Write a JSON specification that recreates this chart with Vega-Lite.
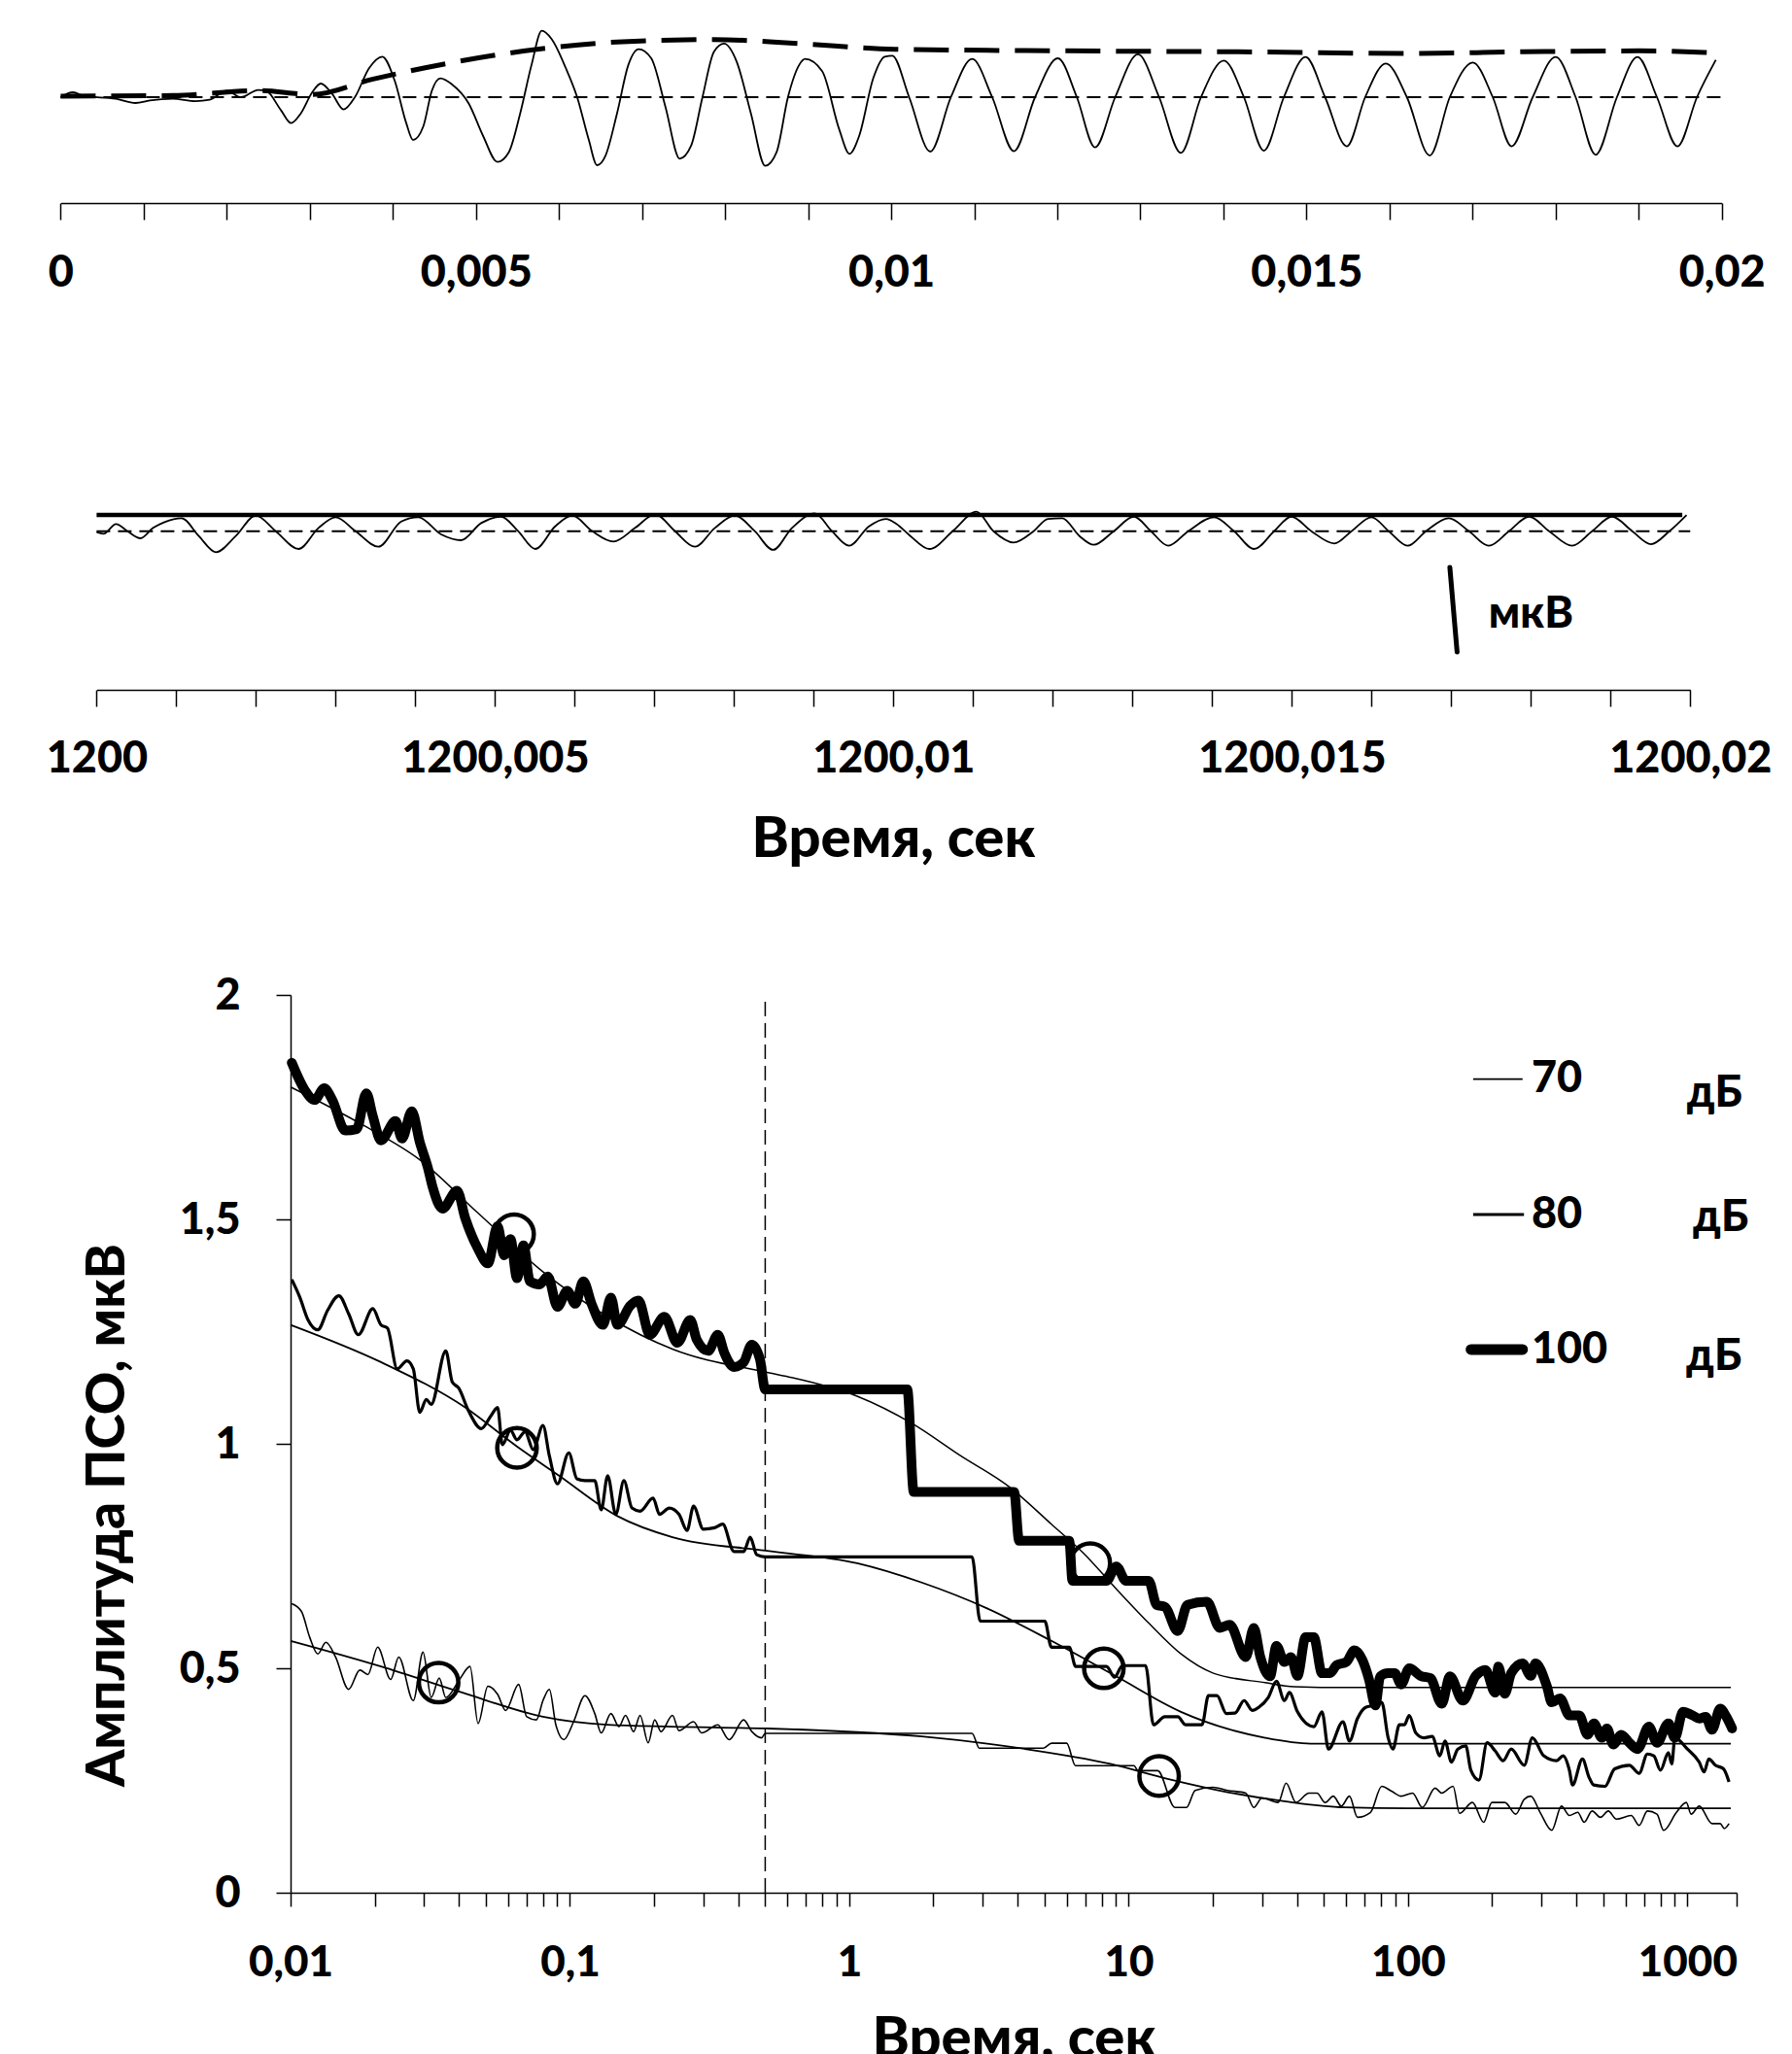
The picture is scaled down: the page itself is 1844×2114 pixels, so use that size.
{
  "$schema": "https://vega.github.io/schema/vega-lite/v6.json",
  "background": "white",
  "padding": {"left": 47, "top": 20, "right": 5, "bottom": 0},
  "spacing": 109,
  "config": {
    "font": "Lato",
    "view": {"stroke": null},
    "axis": {
      "labelFont": "Lato", "labelFontWeight": 900, "labelColor": "black", "labelLimit": 500,
      "titleFont": "Lato", "titleFontWeight": 900, "titleColor": "black", "titleLimit": 2000,
      "domainColor": "black", "tickColor": "black", "domainWidth": 1.5, "tickWidth": 1.5,
      "grid": false, "labelOverlap": false, "labelFlush": false, "labelBound": false
    }
  },
  "datasets": {
    "p1_base": [{"t":0,"t2":0.02,"v":0}],
    "p1_signal": [
      {"t":0,"v":0},{"t":0.000148,"v":0.058},{"t":0.000285,"v":0.012},{"t":0.000663,"v":-0.019},{"t":0.000902,"v":-0.07},{"t":0.001074,"v":-0.039},{"t":0.001349,"v":-0.019},{"t":0.001623,"v":-0.047},{"t":0.001794,"v":-0.031},{"t":0.002,"v":0.078},{"t":0.002172,"v":0},{"t":0.002378,"v":0.085},{"t":0.00248,"v":0.07},{"t":0.002652,"v":-0.155},{"t":0.002775,"v":-0.31},{"t":0.002892,"v":-0.194},{"t":0.003029,"v":0.058},{"t":0.003132,"v":0.163},{"t":0.003269,"v":0.039},{"t":0.003406,"v":-0.147},{"t":0.003543,"v":0},{"t":0.003715,"v":0.349},{"t":0.003873,"v":0.485},{"t":0.004023,"v":0.194},{"t":0.004161,"v":-0.31},{"t":0.004243,"v":-0.512},{"t":0.004367,"v":-0.349},{"t":0.00447,"v":0.078},{"t":0.004573,"v":0.225},{"t":0.00471,"v":0.155},{"t":0.004915,"v":-0.078},{"t":0.005087,"v":-0.465},{"t":0.005259,"v":-0.775},{"t":0.005396,"v":-0.659},{"t":0.005533,"v":-0.194},{"t":0.00567,"v":0.388},{"t":0.005793,"v":0.795},{"t":0.00591,"v":0.698},{"t":0.006082,"v":0.349},{"t":0.006219,"v":0},{"t":0.006357,"v":-0.504},{"t":0.006459,"v":-0.814},{"t":0.006561,"v":-0.698},{"t":0.006699,"v":-0.194},{"t":0.006836,"v":0.388},{"t":0.00696,"v":0.574},{"t":0.007111,"v":0.465},{"t":0.007282,"v":-0.116},{"t":0.007454,"v":-0.736},{"t":0.007591,"v":-0.581},{"t":0.007728,"v":0},{"t":0.007866,"v":0.543},{"t":0.007988,"v":0.64},{"t":0.008139,"v":0.426},{"t":0.008311,"v":-0.194},{"t":0.008483,"v":-0.822},{"t":0.00862,"v":-0.659},{"t":0.008757,"v":0},{"t":0.008894,"v":0.388},{"t":0.008963,"v":0.457},{"t":0.009169,"v":0.31},{"t":0.009375,"v":-0.388},{"t":0.009498,"v":-0.678},{"t":0.009614,"v":-0.465},{"t":0.009786,"v":0.233},{"t":0.009923,"v":0.485},{"t":0.010014,"v":0.496},{"t":0.010216,"v":0},{"t":0.010471,"v":-0.651},{"t":0.010719,"v":0},{"t":0.010975,"v":0.457},{"t":0.011216,"v":0},{"t":0.011478,"v":-0.647},{"t":0.011732,"v":0},{"t":0.012007,"v":0.465},{"t":0.012235,"v":0},{"t":0.012455,"v":-0.601},{"t":0.012697,"v":0},{"t":0.012971,"v":0.512},{"t":0.013226,"v":0},{"t":0.013488,"v":-0.667},{"t":0.01373,"v":0},{"t":0.014005,"v":0.438},{"t":0.014247,"v":0},{"t":0.014487,"v":-0.64},{"t":0.014728,"v":0},{"t":0.01499,"v":0.481},{"t":0.015224,"v":0},{"t":0.015486,"v":-0.589},{"t":0.015707,"v":0},{"t":0.015955,"v":0.403},{"t":0.016209,"v":0},{"t":0.016485,"v":-0.698},{"t":0.016726,"v":0},{"t":0.017002,"v":0.415},{"t":0.017243,"v":0},{"t":0.01747,"v":-0.589},{"t":0.017724,"v":0},{"t":0.018,"v":0.481},{"t":0.018241,"v":0},{"t":0.018482,"v":-0.69},{"t":0.018738,"v":0},{"t":0.018986,"v":0.481},{"t":0.01922,"v":0},{"t":0.019467,"v":-0.589},{"t":0.019702,"v":0},{"t":0.019929,"v":0.446}
    ],
    "p1_env": [
      {"t":0,"v":0.012},{"t":0.001349,"v":0.019},{"t":0.002378,"v":0.078},{"t":0.003029,"v":0.031},{"t":0.00375,"v":0.213},{"t":0.004779,"v":0.426},{"t":0.005807,"v":0.581},{"t":0.006836,"v":0.667},{"t":0.007866,"v":0.69},{"t":0.008894,"v":0.64},{"t":0.010047,"v":0.574},{"t":0.012111,"v":0.554},{"t":0.014178,"v":0.543},{"t":0.016243,"v":0.523},{"t":0.017621,"v":0.543},{"t":0.018998,"v":0.554},{"t":0.019826,"v":0.535}
    ],
    "p2_base": [{"t":1200,"t2":1200.02,"v":0}],
    "p2_env": [{"t":1200,"t2":1200.0199,"v":0.194}],
    "p2_signal": [
      {"t":1200,"v":-0.01},{"t":1200.000087,"v":-0.03},{"t":1200.000244,"v":0.086},{"t":1200.000387,"v":0},{"t":1200.000551,"v":-0.085},{"t":1200.000709,"v":0.039},{"t":1200.000853,"v":0.109},{"t":1200.001067,"v":0.155},{"t":1200.001282,"v":-0.058},{"t":1200.001497,"v":-0.251},{"t":1200.001747,"v":-0.058},{"t":1200.001998,"v":0.186},{"t":1200.002248,"v":0},{"t":1200.002535,"v":-0.213},{"t":1200.002785,"v":0.039},{"t":1200.003,"v":0.167},{"t":1200.00325,"v":0},{"t":1200.003536,"v":-0.186},{"t":1200.003823,"v":0.116},{"t":1200.004038,"v":0.167},{"t":1200.004324,"v":-0.038},{"t":1200.004574,"v":-0.108},{"t":1200.004826,"v":0.097},{"t":1200.005076,"v":0.174},{"t":1200.00529,"v":0},{"t":1200.005505,"v":-0.213},{"t":1200.005755,"v":0.058},{"t":1200.005971,"v":0.186},{"t":1200.006221,"v":0},{"t":1200.006486,"v":-0.124},{"t":1200.006758,"v":0.039},{"t":1200.007009,"v":0.202},{"t":1200.007259,"v":0},{"t":1200.007509,"v":-0.186},{"t":1200.00776,"v":0.039},{"t":1200.00801,"v":0.186},{"t":1200.00826,"v":0},{"t":1200.00849,"v":-0.224},{"t":1200.008727,"v":0.039},{"t":1200.009013,"v":0.213},{"t":1200.009228,"v":0},{"t":1200.009443,"v":-0.174},{"t":1200.009693,"v":0.058},{"t":1200.009907,"v":0.147},{"t":1200.010034,"v":0.09},{"t":1200.010213,"v":-0.058},{"t":1200.010451,"v":-0.213},{"t":1200.010753,"v":0.008},{"t":1200.011041,"v":0.233},{"t":1200.011256,"v":0},{"t":1200.011508,"v":-0.135},{"t":1200.011759,"v":0},{"t":1200.01194,"v":0.147},{"t":1200.012119,"v":0.155},{"t":1200.012335,"v":-0.058},{"t":1200.012514,"v":-0.163},{"t":1200.012765,"v":0},{"t":1200.013018,"v":0.174},{"t":1200.013232,"v":0},{"t":1200.013448,"v":-0.174},{"t":1200.0137,"v":0},{"t":1200.014024,"v":0.167},{"t":1200.014275,"v":0},{"t":1200.014527,"v":-0.213},{"t":1200.014778,"v":0},{"t":1200.014994,"v":0.174},{"t":1200.015245,"v":0},{"t":1200.015533,"v":-0.147},{"t":1200.015749,"v":0},{"t":1200.016,"v":0.167},{"t":1200.016216,"v":0},{"t":1200.016453,"v":-0.174},{"t":1200.016683,"v":0},{"t":1200.01697,"v":0.155},{"t":1200.017223,"v":0},{"t":1200.017474,"v":-0.174},{"t":1200.017725,"v":0},{"t":1200.017978,"v":0.174},{"t":1200.018229,"v":0},{"t":1200.018517,"v":-0.174},{"t":1200.018768,"v":0},{"t":1200.019019,"v":0.174},{"t":1200.019272,"v":0},{"t":1200.019508,"v":-0.155},{"t":1200.019738,"v":0},{"t":1200.019954,"v":0.194}
    ],
    "p2_bar": [{"t":1200.016983,"t2":1200.017074,"v":-0.434,"v2":-1.445}],
    "p2_label": [{"t":1200.01747,"v":-0.99,"label":"мкВ"}],
    "p3_vline": [{"t":0.5,"v":0,"v2":1.987}],
    "r100": [
      {"t":0.0101,"v":1.849},{"t":0.01125,"v":1.788},{"t":0.01218,"v":1.766},{"t":0.0132,"v":1.792},{"t":0.01411,"v":1.766},{"t":0.0157,"v":1.698},{"t":0.01724,"v":1.701},{"t":0.01867,"v":1.781},{"t":0.0197,"v":1.73},{"t":0.02107,"v":1.676},{"t":0.02375,"v":1.719},{"t":0.02506,"v":1.68},{"t":0.02715,"v":1.741},{"t":0.02901,"v":1.672},{"t":0.03101,"v":1.615},{"t":0.03228,"v":1.571},{"t":0.03498,"v":1.524},{"t":0.03944,"v":1.564},{"t":0.04217,"v":1.503},{"t":0.04691,"v":1.434},{"t":0.05084,"v":1.402},{"t":0.05508,"v":1.485},{"t":0.0581,"v":1.42},{"t":0.06127,"v":1.456},{"t":0.06463,"v":1.369},{"t":0.06819,"v":1.442},{"t":0.0719,"v":1.362},{"t":0.07792,"v":1.355},{"t":0.08329,"v":1.373},{"t":0.09024,"v":1.305},{"t":0.09777,"v":1.341},{"t":0.1045,"v":1.312},{"t":0.1117,"v":1.362},{"t":0.1195,"v":1.312},{"t":0.1312,"v":1.265},{"t":0.1402,"v":1.326},{"t":0.1479,"v":1.265},{"t":0.1646,"v":1.308},{"t":0.1759,"v":1.319},{"t":0.1932,"v":1.243},{"t":0.2178,"v":1.283},{"t":0.2424,"v":1.225},{"t":0.2696,"v":1.276},{"t":0.2844,"v":1.232},{"t":0.3123,"v":1.207},{"t":0.3384,"v":1.243},{"t":0.3568,"v":1.203},{"t":0.3865,"v":1.171},{"t":0.4188,"v":1.182},{"t":0.4477,"v":1.221},{"t":0.4786,"v":1.189},{"t":0.5,"v":1.121},{"t":1.613,"v":1.121},{"t":1.701,"v":0.893},{"t":3.89,"v":0.893},{"t":4.053,"v":0.784},{"t":6.128,"v":0.784},{"t":6.29,"v":0.695},{"t":8.328,"v":0.695},{"t":9.03,"v":0.727},{"t":9.78,"v":0.695},{"t":11.79,"v":0.695},{"t":12.6,"v":0.641},{"t":13.47,"v":0.637},{"t":14.98,"v":0.583},{"t":16.23,"v":0.641},{"t":19.05,"v":0.648},{"t":21.2,"v":0.59},{"t":22.97,"v":0.597},{"t":26.24,"v":0.525},{"t":28.05,"v":0.59},{"t":29.6,"v":0.525},{"t":32.06,"v":0.482},{"t":33.8,"v":0.55},{"t":36.1,"v":0.514},{"t":38.1,"v":0.525},{"t":40.2,"v":0.483},{"t":42.97,"v":0.569},{"t":46,"v":0.569},{"t":49.2,"v":0.489},{"t":52.6,"v":0.489},{"t":55.5,"v":0.507},{"t":60.1,"v":0.514},{"t":64.3,"v":0.54},{"t":68.7,"v":0.518},{"t":72.5,"v":0.475},{"t":76.4,"v":0.417},{"t":79.5,"v":0.482},{"t":84.9,"v":0.489},{"t":89.6,"v":0.489},{"t":94.5,"v":0.464},{"t":101,"v":0.5},{"t":110.9,"v":0.483},{"t":120.2,"v":0.478},{"t":132,"v":0.421},{"t":141.2,"v":0.482},{"t":157,"v":0.428},{"t":174.7,"v":0.483},{"t":189.2,"v":0.496},{"t":205,"v":0.446},{"t":210.5,"v":0.504},{"t":222,"v":0.443},{"t":234,"v":0.489},{"t":257,"v":0.511},{"t":275,"v":0.483},{"t":286,"v":0.511},{"t":314,"v":0.46},{"t":327,"v":0.424},{"t":350,"v":0.433},{"t":378,"v":0.395},{"t":410,"v":0.395},{"t":439,"v":0.352},{"t":463,"v":0.377},{"t":494,"v":0.345},{"t":515,"v":0.366},{"t":543,"v":0.33},{"t":580,"v":0.352},{"t":620,"v":0.334},{"t":663,"v":0.32},{"t":728,"v":0.37},{"t":778,"v":0.334},{"t":855,"v":0.377},{"t":902,"v":0.345},{"t":964,"v":0.403},{"t":1044,"v":0.395},{"t":1102,"v":0.388},{"t":1162,"v":0.392},{"t":1225,"v":0.363},{"t":1310,"v":0.41},{"t":1378,"v":0.392},{"t":1445,"v":0.366}
    ],
    "r80": [
      {"t":0.0101,"v":1.366},{"t":0.0108,"v":1.326},{"t":0.01155,"v":1.276},{"t":0.01252,"v":1.254},{"t":0.01356,"v":1.297},{"t":0.01489,"v":1.33},{"t":0.01613,"v":1.29},{"t":0.01748,"v":1.243},{"t":0.0197,"v":1.301},{"t":0.02107,"v":1.265},{"t":0.02222,"v":1.258},{"t":0.02408,"v":1.167},{"t":0.02608,"v":1.185},{"t":0.0275,"v":1.167},{"t":0.02901,"v":1.07},{"t":0.0306,"v":1.099},{"t":0.03187,"v":1.088},{"t":0.03594,"v":1.207},{"t":0.03789,"v":1.138},{"t":0.04,"v":1.124},{"t":0.04331,"v":1.074},{"t":0.04818,"v":1.034},{"t":0.0522,"v":1.063},{"t":0.05508,"v":1.081},{"t":0.05732,"v":0.998},{"t":0.06127,"v":1.03},{"t":0.06463,"v":1.009},{"t":0.06909,"v":1.027},{"t":0.07388,"v":0.987},{"t":0.08007,"v":1.041},{"t":0.08441,"v":0.973},{"t":0.09024,"v":0.911},{"t":0.09906,"v":0.98},{"t":0.1059,"v":0.922},{"t":0.1132,"v":0.918},{"t":0.1227,"v":0.918},{"t":0.1294,"v":0.853},{"t":0.1365,"v":0.929},{"t":0.1459,"v":0.843},{"t":0.156,"v":0.918},{"t":0.1667,"v":0.857},{"t":0.1783,"v":0.85},{"t":0.1984,"v":0.879},{"t":0.2093,"v":0.843},{"t":0.2267,"v":0.857},{"t":0.2457,"v":0.843},{"t":0.2625,"v":0.807},{"t":0.277,"v":0.861},{"t":0.3001,"v":0.81},{"t":0.3294,"v":0.813},{"t":0.3522,"v":0.821},{"t":0.3864,"v":0.76},{"t":0.4188,"v":0.76},{"t":0.4418,"v":0.792},{"t":0.4662,"v":0.753},{"t":0.5,"v":0.748},{"t":2.75,"v":0.748},{"t":2.94,"v":0.605},{"t":5.01,"v":0.605},{"t":5.29,"v":0.547},{"t":6.13,"v":0.547},{"t":6.46,"v":0.504},{"t":8.33,"v":0.504},{"t":8.9,"v":0.48},{"t":9.5,"v":0.506},{"t":11.5,"v":0.506},{"t":12.27,"v":0.374},{"t":13.46,"v":0.392},{"t":14.99,"v":0.392},{"t":16.0,"v":0.374},{"t":18.3,"v":0.374},{"t":19.3,"v":0.439},{"t":20.7,"v":0.439},{"t":22.4,"v":0.399},{"t":24,"v":0.4},{"t":25.9,"v":0.428},{"t":27.7,"v":0.406},{"t":29.2,"v":0.413},{"t":31.6,"v":0.435},{"t":33.8,"v":0.471},{"t":36.1,"v":0.428},{"t":37.6,"v":0.446},{"t":40.2,"v":0.403},{"t":46,"v":0.37},{"t":49.2,"v":0.403},{"t":51.9,"v":0.32},{"t":58.5,"v":0.381},{"t":61.7,"v":0.338},{"t":65.9,"v":0.388},{"t":70.5,"v":0.413},{"t":75.3,"v":0.417},{"t":80.5,"v":0.424},{"t":84.9,"v":0.345},{"t":88.3,"v":0.32},{"t":93.1,"v":0.374},{"t":97,"v":0.374},{"t":101,"v":0.395},{"t":106.6,"v":0.356},{"t":114,"v":0.345},{"t":122,"v":0.348},{"t":130,"v":0.305},{"t":135.6,"v":0.338},{"t":143,"v":0.291},{"t":150.7,"v":0.32},{"t":161,"v":0.327},{"t":167.8,"v":0.273},{"t":179.4,"v":0.251},{"t":191.8,"v":0.334},{"t":205,"v":0.316},{"t":219,"v":0.294},{"t":234,"v":0.32},{"t":260.6,"v":0.284},{"t":278.6,"v":0.345},{"t":306,"v":0.305},{"t":340,"v":0.294},{"t":359,"v":0.305},{"t":378,"v":0.273},{"t":388,"v":0.24},{"t":421,"v":0.298},{"t":444,"v":0.258},{"t":462,"v":0.24},{"t":507,"v":0.237},{"t":549,"v":0.276},{"t":620,"v":0.284},{"t":672,"v":0.266},{"t":719,"v":0.309},{"t":758,"v":0.305},{"t":801,"v":0.273},{"t":855,"v":0.312},{"t":879,"v":0.287},{"t":902,"v":0.345},{"t":1000,"v":0.32},{"t":1102,"v":0.291},{"t":1147,"v":0.269},{"t":1193,"v":0.298},{"t":1259,"v":0.284},{"t":1346,"v":0.276},{"t":1409,"v":0.247}
    ],
    "r70": [
      {"t":0.0101,"v":0.644},{"t":0.01095,"v":0.626},{"t":0.01171,"v":0.569},{"t":0.01252,"v":0.532},{"t":0.01338,"v":0.558},{"t":0.01449,"v":0.525},{"t":0.01613,"v":0.453},{"t":0.0177,"v":0.496},{"t":0.01892,"v":0.486},{"t":0.0205,"v":0.547},{"t":0.02282,"v":0.475},{"t":0.02439,"v":0.525},{"t":0.0275,"v":0.428},{"t":0.02979,"v":0.536},{"t":0.03187,"v":0.435},{"t":0.03406,"v":0.478},{"t":0.03594,"v":0.435},{"t":0.04053,"v":0.478},{"t":0.04389,"v":0.504},{"t":0.04691,"v":0.377},{"t":0.05084,"v":0.46},{"t":0.05508,"v":0.442},{"t":0.05888,"v":0.406},{"t":0.06553,"v":0.464},{"t":0.07003,"v":0.392},{"t":0.07586,"v":0.385},{"t":0.08007,"v":0.428},{"t":0.08441,"v":0.453},{"t":0.08905,"v":0.374},{"t":0.09516,"v":0.341},{"t":0.1031,"v":0.381},{"t":0.1132,"v":0.439},{"t":0.1227,"v":0.399},{"t":0.1294,"v":0.356},{"t":0.1402,"v":0.399},{"t":0.1498,"v":0.37},{"t":0.1581,"v":0.395},{"t":0.169,"v":0.359},{"t":0.1783,"v":0.395},{"t":0.1906,"v":0.334},{"t":0.2011,"v":0.385},{"t":0.2118,"v":0.359},{"t":0.2328,"v":0.395},{"t":0.2457,"v":0.361},{"t":0.277,"v":0.381},{"t":0.296,"v":0.356},{"t":0.3384,"v":0.374},{"t":0.3715,"v":0.341},{"t":0.4188,"v":0.385},{"t":0.4477,"v":0.359},{"t":0.4851,"v":0.345},{"t":0.5,"v":0.355},{"t":2.75,"v":0.355},{"t":2.92,"v":0.322},{"t":4.95,"v":0.322},{"t":5.3,"v":0.333},{"t":6.0,"v":0.333},{"t":6.45,"v":0.283},{"t":10.45,"v":0.283},{"t":10.8,"v":0.272},{"t":12.7,"v":0.272},{"t":14.64,"v":0.19},{"t":16.1,"v":0.19},{"t":17.3,"v":0.228},{"t":20.0,"v":0.235},{"t":22.6,"v":0.228},{"t":26.24,"v":0.222},{"t":28.05,"v":0.19},{"t":30,"v":0.211},{"t":34.3,"v":0.201},{"t":36.6,"v":0.244},{"t":39.7,"v":0.201},{"t":44.2,"v":0.222},{"t":47.2,"v":0.222},{"t":50.5,"v":0.201},{"t":54,"v":0.215},{"t":57.7,"v":0.193},{"t":61.7,"v":0.215},{"t":65.9,"v":0.168},{"t":73.4,"v":0.179},{"t":80.5,"v":0.237},{"t":87.3,"v":0.226},{"t":94.5,"v":0.215},{"t":103.8,"v":0.222},{"t":112.5,"v":0.19},{"t":125,"v":0.233},{"t":132,"v":0.222},{"t":145,"v":0.237},{"t":152.8,"v":0.177},{"t":170,"v":0.201},{"t":186.5,"v":0.157},{"t":199.5,"v":0.201},{"t":222,"v":0.201},{"t":243,"v":0.175},{"t":260.6,"v":0.208},{"t":275,"v":0.215},{"t":297,"v":0.179},{"t":327,"v":0.139},{"t":354,"v":0.193},{"t":378,"v":0.172},{"t":405,"v":0.179},{"t":427,"v":0.157},{"t":456,"v":0.182},{"t":488,"v":0.168},{"t":521,"v":0.182},{"t":557,"v":0.164},{"t":629,"v":0.172},{"t":672,"v":0.15},{"t":719,"v":0.182},{"t":778,"v":0.175},{"t":822,"v":0.139},{"t":914,"v":0.179},{"t":991,"v":0.201},{"t":1031,"v":0.175},{"t":1102,"v":0.193},{"t":1225,"v":0.154},{"t":1310,"v":0.154},{"t":1355,"v":0.143},{"t":1409,"v":0.154}
    ],
    "f100": [
      {"t":0.01,"v":1.795},{"t":0.01843,"v":1.708},{"t":0.029,"v":1.633},{"t":0.0469,"v":1.514},{"t":0.0798,"v":1.384},{"t":0.1365,"v":1.283},{"t":0.2328,"v":1.211},{"t":0.5,"v":1.16},{"t":0.608,"v":1.149},{"t":1.067,"v":1.106},{"t":1.68,"v":1.045},{"t":2.506,"v":0.973},{"t":3.74,"v":0.904},{"t":5.29,"v":0.821},{"t":6.9,"v":0.756},{"t":9.02,"v":0.677},{"t":11.78,"v":0.601},{"t":15.38,"v":0.532},{"t":20.1,"v":0.489},{"t":30.8,"v":0.468},{"t":39.2,"v":0.459},{"t":60,"v":0.457},{"t":1430,"v":0.457}
    ],
    "f80": [
      {"t":0.01,"v":1.265},{"t":0.02107,"v":1.182},{"t":0.04217,"v":1.081},{"t":0.06463,"v":0.994},{"t":0.0914,"v":0.929},{"t":0.1479,"v":0.839},{"t":0.2328,"v":0.792},{"t":0.5,"v":0.762},{"t":1.067,"v":0.734},{"t":1.816,"v":0.691},{"t":3.1,"v":0.634},{"t":5.29,"v":0.561},{"t":9.02,"v":0.482},{"t":15.38,"v":0.403},{"t":30.8,"v":0.345},{"t":44.8,"v":0.332},{"t":1430,"v":0.332}
    ],
    "f70": [
      {"t":0.01,"v":0.561},{"t":0.02107,"v":0.504},{"t":0.04108,"v":0.446},{"t":0.08007,"v":0.392},{"t":0.1365,"v":0.374},{"t":0.2328,"v":0.37},{"t":0.5,"v":0.366},{"t":1.816,"v":0.348},{"t":4.18,"v":0.321},{"t":8.6,"v":0.287},{"t":13.9,"v":0.253},{"t":22.6,"v":0.224},{"t":36.6,"v":0.203},{"t":59.2,"v":0.19},{"t":100,"v":0.188},{"t":1430,"v":0.188}
    ],
    "circles": [
      {"t":0.0631,"v":1.467},{"t":0.06463,"v":0.991},{"t":0.03388,"v":0.468},{"t":7.29,"v":0.734},{"t":8.15,"v":0.5},{"t":12.85,"v":0.26}
    ],
    "legend_lines": [
      {"label":"70","t":171,"t2":257,"v":1.8125},
      {"label":"80","t":171,"t2":260,"v":1.511},
      {"label":"100","t":168,"t2":257,"v":1.21}
    ],
    "legend_text": [
      {"label":"70","t":276.6,"v":1.814},
      {"label":"80","t":276.6,"v":1.511},
      {"label":"100","t":276.6,"v":1.21},
      {"label":"дБ","t":995,"v":1.781},
      {"label":"дБ","t":1047,"v":1.504},
      {"label":"дБ","t":990,"v":1.195}
    ]
  },
  "vconcat": [
    {
      "width": 1473,
      "height": 189,
      "encoding": {
        "x": {"field": "t", "type": "quantitative",
          "scale": {"domain": [0, 0.02], "range": [-236.6, 1472.7], "nice": false, "zero": false},
          "axis": {"title": null,
            "values": [0,0.001,0.002,0.003,0.004,0.005,0.006,0.007,0.008,0.009,0.01,0.011,0.012,0.013,0.014,0.015,0.016,0.017,0.018,0.019,0.02],
            "labelExpr": "round(datum.value*1000) % 5 == 0 ? replace(format(datum.value, '.3~f'), '.', ',') : ''",
            "tickSize": 17, "labelPadding": 32, "labelFontSize": 45}},
        "y": {"field": "v", "type": "quantitative",
          "scale": {"domain": [-1.2674, 0.9302], "nice": false, "zero": false},
          "axis": null}
      },
      "layer": [
        {"data": {"name": "p1_base"},
         "mark": {"type": "rule", "strokeDash": [14, 8], "strokeWidth": 2, "color": "black"},
         "encoding": {"x2": {"field": "t2"}}},
        {"data": {"name": "p1_signal"},
         "mark": {"type": "line", "interpolate": "monotone", "strokeWidth": 1.8, "color": "black"}},
        {"data": {"name": "p1_env"},
         "mark": {"type": "line", "interpolate": "monotone", "strokeWidth": 5, "strokeDash": [36, 16], "color": "black"}}
      ]
    },
    {
      "width": 1441,
      "height": 298,
      "encoding": {
        "x": {"field": "t", "type": "quantitative",
          "scale": {"domain": [1200, 1200.02], "range": [-199.6, 1440.3], "nice": false, "zero": false},
          "axis": {"title": "Время, сек",
            "values": [1200,1200.001,1200.002,1200.003,1200.004,1200.005,1200.006,1200.007,1200.008,1200.009,1200.01,1200.011,1200.012,1200.013,1200.014,1200.015,1200.016,1200.017,1200.018,1200.019,1200.02],
            "labelExpr": "round((datum.value-1200)*1000) % 5 == 0 ? replace(format(datum.value, '.3~f'), '.', ',') : ''",
            "tickSize": 17, "labelPadding": 31, "labelFontSize": 45,
            "titleFontSize": 58, "titlePadding": 32, "titleX": 620}},
        "y": {"field": "v", "type": "quantitative",
          "scale": {"domain": [-1.8988, 1.5663], "nice": false, "zero": false},
          "axis": null}
      },
      "layer": [
        {"data": {"name": "p2_base"},
         "mark": {"type": "rule", "strokeDash": [14, 8], "strokeWidth": 2, "color": "black"},
         "encoding": {"x2": {"field": "t2"}}},
        {"data": {"name": "p2_env"},
         "mark": {"type": "rule", "strokeWidth": 4.5, "color": "black"},
         "encoding": {"x2": {"field": "t2"}}},
        {"data": {"name": "p2_signal"},
         "mark": {"type": "line", "interpolate": "monotone", "strokeWidth": 1.8, "color": "black"}},
        {"data": {"name": "p2_bar"},
         "mark": {"type": "rule", "strokeWidth": 5, "strokeCap": "round", "color": "black"},
         "encoding": {"x2": {"field": "t2"}, "y2": {"field": "v2"}}},
        {"data": {"name": "p2_label"},
         "mark": {"type": "text", "align": "left", "baseline": "middle", "fontSize": 45, "fontWeight": 900, "font": "Lato", "color": "black"},
         "encoding": {"text": {"field": "label"}}}
      ]
    },
    {
      "width": 1488,
      "height": 924,
      "encoding": {
        "x": {"field": "t", "type": "quantitative",
          "scale": {"type": "log", "domain": [0.01, 1500], "nice": false},
          "axis": {"title": "Время, сек",
            "values": [0.01,0.02,0.03,0.04,0.05,0.06,0.07,0.08,0.09,0.1,0.2,0.3,0.4,0.5,0.6,0.7,0.8,0.9,1,2,3,4,5,6,7,8,9,10,20,30,40,50,60,70,80,90,100,200,300,400,500,600,700,800,900,1000,1500],
            "labelExpr": "indexof([0.01,0.1,1,10,100,1000], datum.value) >= 0 ? replace(format(datum.value, '~g'), '.', ',') : ''",
            "tickSize": 14, "labelPadding": 36, "labelFontSize": 44,
            "titleFontSize": 58, "titlePadding": 28}},
        "y": {"field": "v", "type": "quantitative",
          "scale": {"domain": [0, 2], "nice": false, "zero": false},
          "axis": {"title": "Амплитуда ПСО, мкВ",
            "values": [0, 0.5, 1, 1.5, 2],
            "labelExpr": "replace(format(datum.value, '~g'), '.', ',')",
            "tickSize": 15, "labelPadding": 37, "labelFontSize": 45,
            "titleFontSize": 55, "titlePadding": 45, "titleY": 535}}
      },
      "layer": [
        {"data": {"name": "p3_vline"},
         "mark": {"type": "rule", "strokeDash": [15, 7], "strokeWidth": 1.5, "color": "black"},
         "encoding": {"y2": {"field": "v2"}}},
        {"data": {"name": "r70"},
         "mark": {"type": "line", "interpolate": "monotone", "strokeWidth": 1.6, "color": "black", "strokeJoin": "round"}},
        {"data": {"name": "r80"},
         "mark": {"type": "line", "interpolate": "monotone", "strokeWidth": 3.2, "color": "black", "strokeJoin": "round"}},
        {"data": {"name": "r100"},
         "mark": {"type": "line", "interpolate": "monotone", "strokeWidth": 10, "color": "black", "strokeJoin": "round", "strokeCap": "round"}},
        {"data": {"name": "f70"},
         "mark": {"type": "line", "interpolate": "monotone", "strokeWidth": 1.8, "color": "black"}},
        {"data": {"name": "f80"},
         "mark": {"type": "line", "interpolate": "monotone", "strokeWidth": 1.8, "color": "black"}},
        {"data": {"name": "f100"},
         "mark": {"type": "line", "interpolate": "monotone", "strokeWidth": 1.5, "color": "black"}},
        {"data": {"name": "circles"},
         "mark": {"type": "point", "shape": "circle", "filled": false, "size": 1650, "strokeWidth": 4.5, "color": "black", "opacity": 1}},
        {"data": {"name": "legend_lines"},
         "transform": [{"filter": "datum.label == '70'"}],
         "mark": {"type": "rule", "color": "black", "strokeWidth": 1.6},
         "encoding": {"x2": {"field": "t2"}}},
        {"data": {"name": "legend_lines"},
         "transform": [{"filter": "datum.label == '80'"}],
         "mark": {"type": "rule", "color": "black", "strokeWidth": 3},
         "encoding": {"x2": {"field": "t2"}}},
        {"data": {"name": "legend_lines"},
         "transform": [{"filter": "datum.label == '100'"}],
         "mark": {"type": "rule", "color": "black", "strokeWidth": 11, "strokeCap": "round"},
         "encoding": {"x2": {"field": "t2"}}},
        {"data": {"name": "legend_text"},
         "mark": {"type": "text", "align": "left", "baseline": "middle", "fontSize": 45, "fontWeight": 900, "font": "Lato", "color": "black"},
         "encoding": {"text": {"field": "label"}}}
      ]
    }
  ]
}
